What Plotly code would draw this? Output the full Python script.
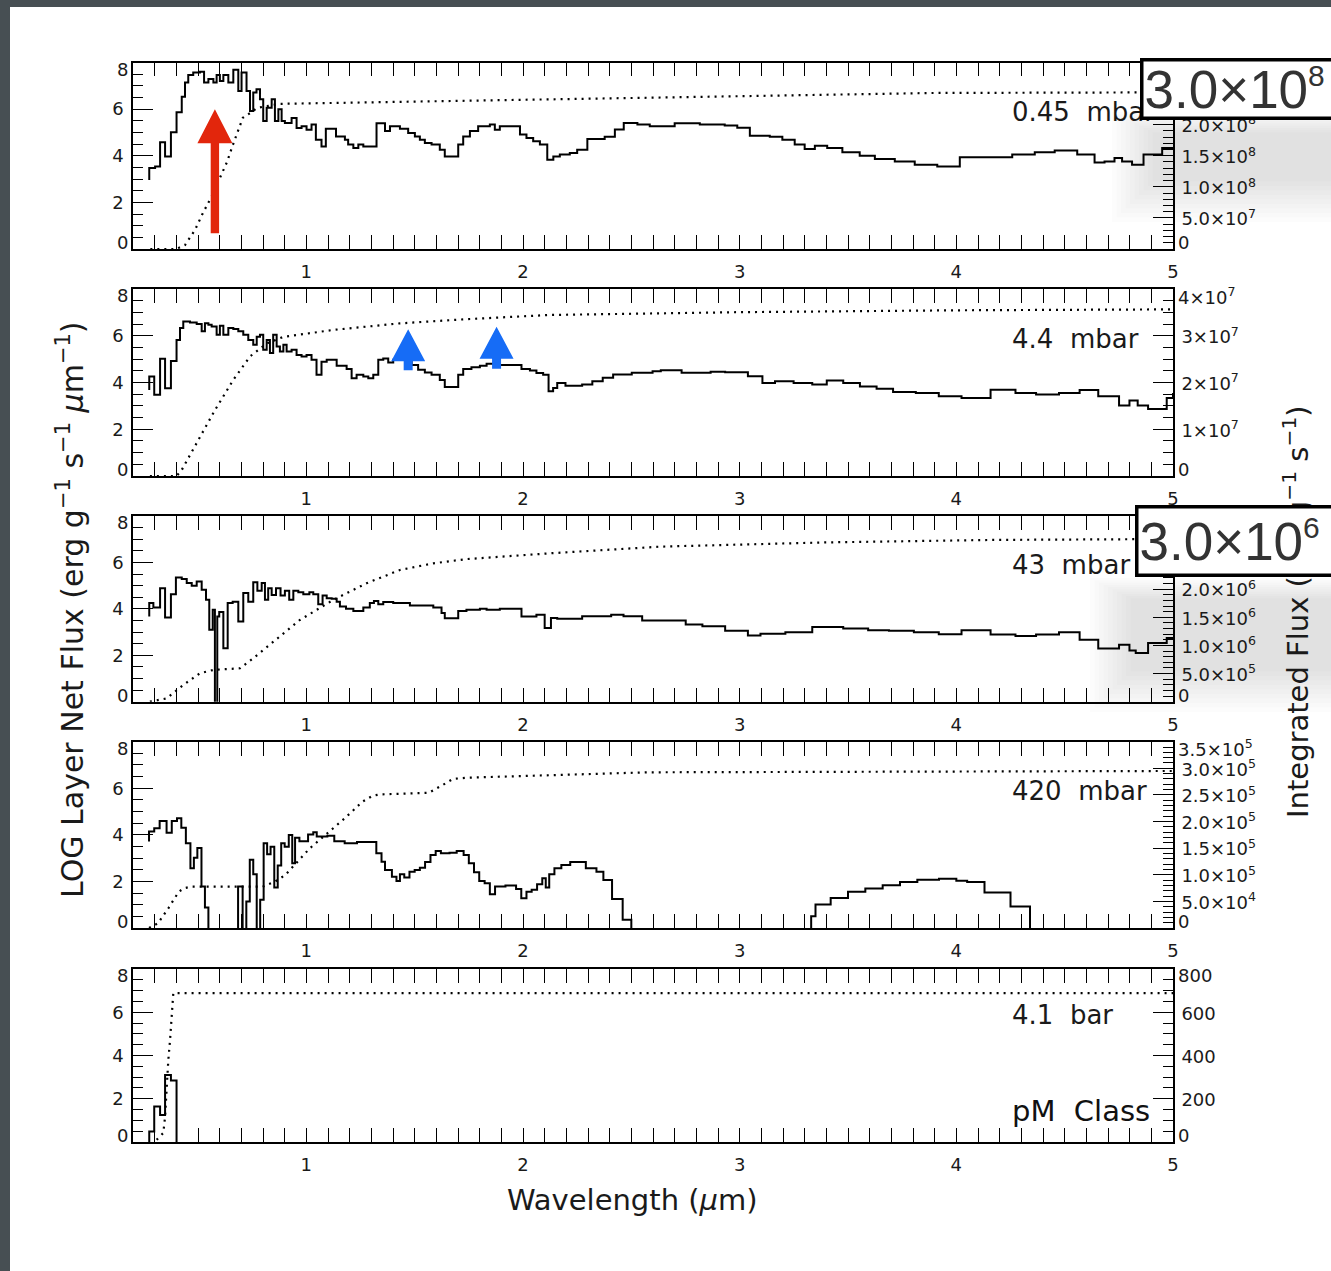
import plotly.graph_objects as go

W, H = 1331, 1271
FONT = "DejaVu Sans"

# ---------------------------------------------------------------------------
# LOG layer net flux spectra (histogram steps: left bin edge, log10 flux)
# -3.0 marks bins with no net flux (drawn below the axis floor)
# ---------------------------------------------------------------------------
wl_a = [0.275, 0.275, 0.302, 0.325, 0.348, 0.375, 0.401, 0.425, 0.440, 0.455, 0.478, 0.509,
        0.528, 0.548, 0.571, 0.586, 0.601, 0.617, 0.640, 0.663, 0.686, 0.701, 0.724, 0.740,
        0.755, 0.770, 0.786, 0.801, 0.817, 0.840, 0.855, 0.871, 0.886, 0.901, 0.932, 0.955,
        0.978, 1.001, 1.024, 1.044, 1.070, 1.090, 1.137, 1.178, 1.193, 1.217, 1.240, 1.263,
        1.286, 1.324, 1.363, 1.386, 1.432, 1.470, 1.501, 1.524, 1.547, 1.578, 1.616, 1.639,
        1.701, 1.724, 1.755, 1.793, 1.847, 1.870, 1.893, 1.986, 2.016, 2.047, 2.078, 2.112,
        2.140, 2.170, 2.216, 2.250, 2.297, 2.377, 2.424, 2.465, 2.528, 2.585, 2.700, 2.816,
        2.931, 2.989, 3.047, 3.139, 3.197, 3.254, 3.300, 3.347, 3.404, 3.474, 3.554, 3.624,
        3.716, 3.808, 3.912, 4.016, 4.131, 4.258, 4.362, 4.454, 4.558, 4.638, 4.684, 4.730,
        4.765, 4.811, 4.864, 4.950, 5.000]
lf_a = [2.96, 3.47, 3.54, 4.58, 3.97, 5.01, 5.87, 6.53, 7.14, 7.46, 7.57, 7.60,
        7.14, 7.29, 7.14, 7.46, 7.21, 7.46, 7.14, 7.69, 6.78, 7.57, 6.78, 5.92,
        6.71, 6.85, 6.42, 5.49, 6.06, 6.42, 5.49, 5.99, 5.49, 5.41, 5.62, 5.19,
        5.27, 5.12, 5.34, 4.69, 4.40, 5.16, 4.83, 4.69, 4.48, 4.33, 4.48, 4.40,
        4.40, 5.39, 5.06, 5.27, 5.16, 4.98, 4.83, 4.69, 4.55, 4.48, 4.26, 3.97,
        4.48, 4.83, 5.06, 5.27, 5.34, 5.12, 5.27, 4.91, 4.76, 4.62, 4.48, 3.83,
        3.97, 4.05, 4.12, 4.26, 4.72, 4.81, 5.13, 5.41, 5.34, 5.27, 5.39, 5.34,
        5.30, 5.20, 4.86, 4.81, 4.69, 4.48, 4.29, 4.43, 4.33, 4.15, 4.00, 3.86,
        3.75, 3.61, 3.54, 3.94, 3.94, 4.05, 4.15, 4.23, 4.05, 3.71, 3.75, 3.90,
        3.75, 3.61, 4.05, 4.33, 4.33]

wl_b = [0.275, 0.275, 0.298, 0.325, 0.348, 0.375, 0.401, 0.417, 0.432, 0.463, 0.494, 0.517,
        0.532, 0.548, 0.563, 0.586, 0.601, 0.617, 0.640, 0.663, 0.686, 0.709, 0.732, 0.755,
        0.771, 0.786, 0.801, 0.817, 0.832, 0.847, 0.863, 0.878, 0.894, 0.909, 0.932, 0.955,
        0.978, 1.001, 1.024, 1.047, 1.070, 1.094, 1.140, 1.186, 1.209, 1.232, 1.263, 1.286,
        1.309, 1.332, 1.355, 1.378, 1.401, 1.424, 1.447, 1.486, 1.516, 1.547, 1.578, 1.616,
        1.639, 1.701, 1.724, 1.762, 1.801, 1.832, 1.878, 1.993, 2.032, 2.062, 2.093, 2.118,
        2.139, 2.158, 2.196, 2.273, 2.320, 2.368, 2.416, 2.502, 2.598, 2.636, 2.732, 2.866,
        2.933, 3.038, 3.105, 3.163, 3.249, 3.335, 3.402, 3.478, 3.555, 3.632, 3.708, 3.813,
        3.919, 4.024, 4.158, 4.273, 4.368, 4.474, 4.569, 4.655, 4.751, 4.799, 4.837, 4.885,
        4.971, 5.000]
lf_b = [3.69, 4.26, 3.48, 5.02, 3.76, 4.93, 5.83, 6.34, 6.62, 6.58, 6.51, 6.20,
        6.55, 6.48, 6.41, 6.05, 6.44, 6.05, 6.34, 6.30, 6.20, 6.05, 5.83, 5.62,
        5.97, 6.05, 5.41, 5.83, 5.27, 6.05, 5.55, 5.34, 5.62, 5.34, 5.41, 5.19,
        5.12, 5.19, 4.98, 4.34, 4.90, 4.98, 4.72, 4.58, 4.19, 4.34, 4.26, 4.19,
        4.34, 4.98, 5.04, 4.86, 4.98, 5.04, 4.98, 4.76, 4.55, 4.44, 4.34, 4.11,
        3.81, 4.34, 4.58, 4.66, 4.72, 4.81, 4.76, 4.58, 4.52, 4.41, 4.34, 3.63,
        3.77, 3.98, 3.87, 3.92, 4.06, 4.21, 4.35, 4.42, 4.49, 4.53, 4.42, 4.47,
        4.45, 4.27, 3.98, 4.06, 3.98, 3.92, 4.09, 3.98, 3.84, 3.74, 3.60, 3.56,
        3.42, 3.34, 3.70, 3.56, 3.49, 3.56, 3.68, 3.42, 3.02, 3.24, 3.02, 2.87,
        3.34, 3.56]

wl_c = [0.275, 0.275, 0.294, 0.325, 0.348, 0.375, 0.398, 0.425, 0.448, 0.471, 0.494, 0.517,
        0.537, 0.552, 0.568, 0.578, 0.589, 0.598, 0.617, 0.637, 0.660, 0.686, 0.709, 0.732,
        0.755, 0.774, 0.794, 0.809, 0.824, 0.840, 0.860, 0.881, 0.901, 0.921, 0.940, 0.963,
        0.986, 1.014, 1.032, 1.055, 1.075, 1.094, 1.117, 1.140, 1.155, 1.183, 1.217, 1.263,
        1.293, 1.312, 1.332, 1.355, 1.401, 1.478, 1.586, 1.624, 1.639, 1.701, 1.739, 1.801,
        1.832, 1.893, 1.993, 2.062, 2.100, 2.129, 2.158, 2.196, 2.273, 2.407, 2.464, 2.550,
        2.636, 2.751, 2.828, 2.933, 3.038, 3.096, 3.211, 3.335, 3.478, 3.593, 3.689, 3.804,
        3.919, 4.024, 4.158, 4.273, 4.368, 4.474, 4.569, 4.655, 4.751, 4.799, 4.828, 4.885,
        4.971, 5.000]
lf_c = [3.67, 4.25, 4.06, 4.89, 3.63, 4.63, 5.35, 5.29, 5.11, 5.00, 5.18, 4.82,
        4.39, 3.10, 3.96, -3.0, 3.67, 3.86, 2.30, 4.25, 4.31, 3.45, 4.68, 4.31,
        5.15, 4.78, 5.11, 4.39, 4.89, 4.60, 4.89, 4.57, 4.78, 4.39, 4.78, 4.71,
        4.63, 4.71, 4.63, 4.20, 4.57, 4.46, 4.43, 4.31, 4.10, 4.00, 3.91, 4.06,
        4.25, 4.34, 4.20, 4.29, 4.25, 4.14, 4.06, 3.82, 3.59, 3.91, 3.96, 4.00,
        3.96, 4.00, 3.67, 3.75, 3.17, 3.61, 3.57, 3.57, 3.68, 3.75, 3.68, 3.50,
        3.50, 3.33, 3.25, 3.06, 2.85, 2.93, 2.99, 3.22, 3.15, 3.08, 3.06, 2.99,
        2.91, 3.08, 2.89, 2.83, 2.89, 2.99, 2.67, 2.29, 2.45, 2.21, 2.10, 2.53,
        2.74, 2.74]

wl_d = [0.274, 0.274, 0.298, 0.323, 0.355, 0.379, 0.403, 0.423, 0.444, 0.465, 0.481, 0.497,
        0.516, 0.532, 0.548, 0.685, 0.706, 0.723, 0.739, 0.755, 0.771, 0.787, 0.803, 0.819,
        0.835, 0.852, 0.868, 0.884, 0.900, 0.919, 0.935, 0.948, 0.968, 1.008, 1.032, 1.048,
        1.097, 1.129, 1.177, 1.234, 1.290, 1.323, 1.347, 1.363, 1.395, 1.416, 1.432, 1.452,
        1.476, 1.500, 1.524, 1.548, 1.573, 1.597, 1.621, 1.661, 1.694, 1.726, 1.750, 1.774,
        1.798, 1.823, 1.847, 1.871, 1.919, 1.968, 1.992, 2.016, 2.040, 2.065, 2.089, 2.105,
        2.121, 2.145, 2.177, 2.218, 2.290, 2.339, 2.371, 2.411, 2.460, 2.500, 3.330, 3.350,
        3.420, 3.500, 3.580, 3.660, 3.740, 3.820, 3.920, 4.000, 4.050, 4.130, 4.250, 4.340,
        5.000]
lf_d = [3.71, 4.14, 4.28, 4.60, 4.09, 4.60, 4.71, 4.31, 3.64, 2.57, 3.02, 3.43,
        1.78, 0.88, -3.0, 1.78, -3.0, 1.14, 2.93, 2.31, -3.0, 1.21, 3.64, 3.17,
        3.49, 1.74, 2.68, 3.64, 3.49, 3.99, 2.78, 3.88, 3.73, 4.02, 4.11, 3.93,
        3.96, 3.73, 3.64, 3.69, 3.69, 3.21, 2.85, 2.49, 2.20, 2.02, 2.31, 2.17,
        2.42, 2.49, 2.59, 2.83, 3.14, 3.31, 3.21, 3.23, 3.31, 3.14, 2.78, 2.39,
        2.02, 1.92, 1.45, 1.78, 1.82, 1.68, 1.28, 1.56, 1.64, 1.88, 2.14, 1.74,
        2.31, 2.57, 2.70, 2.83, 2.57, 2.42, 2.06, 1.24, 0.35, -3.0, 0.50, 1.01,
        1.29, 1.56, 1.70, 1.84, 1.98, 2.07, 2.12, 2.03, 1.98, 1.52, 0.92, -3.0,
        -3.0]

wl_e = [0.275, 0.275, 0.298, 0.325, 0.348, 0.375, 0.401, 5.000]
lf_e = [-3.0, 0.48, 1.64, 1.25, 3.10, 2.84, -3.0, -3.0]

# ---------------------------------------------------------------------------
# Integrated flux (erg g^-1 s^-1), cumulative from short wavelengths
# ---------------------------------------------------------------------------
iwl_a = [0.280, 0.400, 0.440, 0.486, 0.523, 0.564, 0.601, 0.634, 0.661, 0.707, 0.749, 0.772,
         0.878, 1.500, 2.124, 3.000, 3.900, 5.000]
if_a = [0.0, 0.0, 0.064e8, 0.306e8, 0.58e8, 0.853e8, 1.143e8, 1.40e8, 1.675e8, 2.11e8, 2.206e8,
        2.27e8, 2.335e8, 2.37e8, 2.40e8, 2.46e8, 2.51e8, 2.52e8]

iwl_b = [0.278, 0.401, 0.425, 0.494, 0.578, 0.663, 0.740, 0.817, 0.894, 1.124, 1.432, 1.739,
         2.124, 3.000, 4.000, 5.000]
if_b = [0.0, 0.0, 0.13e7, 0.70e7, 1.41e7, 2.06e7, 2.56e7, 2.84e7, 2.98e7, 3.13e7, 3.27e7,
        3.36e7, 3.45e7, 3.51e7, 3.55e7, 3.57e7]

iwl_c = [0.278, 0.355, 0.432, 0.509, 0.571, 0.694, 0.755, 0.847, 0.970, 1.124, 1.278, 1.432,
         1.586, 1.739, 1.893, 2.124, 2.636, 3.400, 4.167, 5.000]
if_c = [0.0, 0.059e6, 0.297e6, 0.505e6, 0.565e6, 0.594e6, 0.772e6, 1.065e6, 1.452e6, 1.808e6,
        2.105e6, 2.340e6, 2.459e6, 2.534e6, 2.578e6, 2.637e6, 2.756e6, 2.831e6, 2.875e6, 2.891e6]

iwl_d = [0.274, 0.315, 0.363, 0.411, 0.435, 0.468, 0.798, 0.855, 0.903, 0.952, 1.016, 1.097,
         1.177, 1.258, 1.306, 1.339, 1.565, 1.629, 1.677, 1.742, 2.577, 5.000]
if_d = [0.0, 8.8e3, 37e3, 68e3, 74.6e3, 77.6e3, 77.6e3, 87e3, 99.6e3, 121.5e3, 149.7e3, 178e3,
        206e3, 237e3, 248.5e3, 251e3, 254e3, 268.6e3, 280e3, 282.4e3, 292.5e3, 295e3]

iwl_e = [0.309, 0.340, 0.348, 0.355, 0.363, 0.371, 0.378, 0.386, 5.000]
if_e = [10, 42, 117, 256, 379, 472, 595, 688, 688]

# ---------------------------------------------------------------------------
# Per-layer settings
# ---------------------------------------------------------------------------
layer_names = ["0.45 \u00a0mbar", "4.4 \u00a0mbar", "43 \u00a0mbar", "420 \u00a0mbar", "4.1 \u00a0bar"]
spectra = [(wl_a, lf_a), (wl_b, lf_b), (wl_c, lf_c), (wl_d, lf_d), (wl_e, lf_e)]
integrals = [(iwl_a, if_a), (iwl_b, if_b), (iwl_c, if_c), (iwl_d, if_d), (iwl_e, if_e)]

right_max = [3.0e8, 4.0e7, 3.3e6, 3.5e5, 800]
right_vals = [
    [0, 5e7, 1e8, 1.5e8, 2e8, 2.5e8, 3e8],
    [0, 1e7, 2e7, 3e7, 4e7],
    [0, 5e5, 1e6, 1.5e6, 2e6, 2.5e6, 3e6],
    [0, 5e4, 1e5, 1.5e5, 2e5, 2.5e5, 3e5, 3.5e5],
    [0, 200, 400, 600, 800],
]


def sci(m, e):
    return f"{m}×10<sup>{e}</sup>"


# labels sitting on the frame corners are written separately, nudged inside the frame
right_text = [
    ["", sci("5.0", 7), sci("1.0", 8), sci("1.5", 8), sci("2.0", 8), sci("2.5", 8), ""],
    ["", sci("1", 7), sci("2", 7), sci("3", 7), ""],
    ["", sci("5.0", 5), sci("1.0", 6), sci("1.5", 6), sci("2.0", 6), sci("2.5", 6), sci("3.0", 6)],
    ["", sci("5.0", 4), sci("1.0", 5), sci("1.5", 5), sci("2.0", 5), sci("2.5", 5), sci("3.0", 5), ""],
    ["", "200", "400", "600", ""],
]
right_top_text = [sci("3.0", 8), sci("4", 7), None, sci("3.5", 5), "800"]
right_minor = [1e7, 2.5e6, 1e5, 1e4, 50]

LEFT_RANGE = [0.0, 8.0]
END_NUDGE = 6.5  # px that the end-of-axis labels sit inside the frame

# frame edges in pixels (top, bottom) and left/right
frames = [(62.5, 249.0), (289.3, 476.0), (516.0, 701.7), (741.7, 928.0), (969.0, 1142.0)]
X_LEFT, X_RIGHT = 133.0, 1173.0


def px_x(p):
    return p / W


def px_y(p):
    return 1.0 - p / H


fig = go.Figure()
layout = dict(
    width=W, height=H,
    autosize=False,
    margin=dict(l=0, r=0, t=0, b=0, pad=0, autoexpand=False),
    paper_bgcolor="#474f53",
    plot_bgcolor="rgba(0,0,0,0)",
    showlegend=False,
    font=dict(family=FONT, color="#1a1a1a"),
)

axis_line = dict(showline=True, linecolor="black", linewidth=1.6, showgrid=False,
                 zeroline=False, automargin=False)
tick_font = dict(size=18, family=FONT, color="#1a1a1a")

annotations = []

for i in range(5):
    xn = i + 1
    yl = 2 * i + 1
    yr = 2 * i + 2
    xref = "x" if xn == 1 else f"x{xn}"
    ylref = "y" if yl == 1 else f"y{yl}"
    yrref = f"y{yr}"
    top, bot = frames[i]

    layout["xaxis" if xn == 1 else f"xaxis{xn}"] = dict(
        axis_line,
        domain=[px_x(X_LEFT), px_x(X_RIGHT)],
        anchor=ylref,
        range=[0.2, 5.0],
        mirror="allticks",
        ticks="inside", ticklen=14, tickwidth=1.3, tickcolor="black",
        tickmode="array", tickvals=[1, 2, 3, 4, 5],
        ticklabelstandoff=6,
        tickfont=tick_font,
        minor=dict(ticks="inside", ticklen=7, tickwidth=1.3, tickcolor="black",
                   tick0=0, dtick=0.1, showgrid=False),
    )
    layout["yaxis" if yl == 1 else f"yaxis{yl}"] = dict(
        axis_line,
        domain=[px_y(bot), px_y(top)],
        anchor=xref,
        range=LEFT_RANGE,
        ticks="inside", ticklen=20, tickwidth=1.3, tickcolor="black",
        tickmode="array", tickvals=[0, 2, 4, 6, 8], ticktext=["", "2", "4", "6", ""],
        ticklabelstandoff=4,
        tickfont=tick_font,
        minor=dict(ticks="inside", ticklen=10, tickwidth=1.3, tickcolor="black",
                   tick0=0, dtick=0.5, showgrid=False),
    )
    layout[f"yaxis{yr}"] = dict(
        axis_line,
        overlaying=ylref,
        anchor=xref,
        side="right",
        range=[0, right_max[i]],
        ticks="inside", ticklen=20, tickwidth=1.3, tickcolor="black",
        tickmode="array", tickvals=right_vals[i], ticktext=right_text[i],
        ticklabelshift=1, ticklabelstandoff=3,
        tickfont=tick_font,
        minor=dict(ticks="inside", ticklen=10, tickwidth=1.3, tickcolor="black",
                   tick0=0, dtick=right_minor[i], showgrid=False),
    )

    wl, lf = spectra[i]
    fig.add_trace(go.Scatter(x=wl, y=lf, mode="lines", xaxis=xref, yaxis=ylref,
                             line=dict(shape="hv", color="black", width=2.0),
                             hoverinfo="skip"))
    iw, iv = integrals[i]
    fig.add_trace(go.Scatter(x=iw, y=iv, mode="lines", xaxis=xref, yaxis=yrref,
                             line=dict(color="black", width=2.2, dash="2px,5px"),
                             hoverinfo="skip"))

    # end-of-axis labels, nudged inside the frame
    dom = f"{ylref} domain"
    for txt, yv, shift in (("0", 0, END_NUDGE), ("8", 1, -END_NUDGE)):
        annotations.append(dict(text=txt, xref="paper", yref=dom, x=px_x(X_LEFT - 4), y=yv,
                                yshift=shift, xanchor="right", yanchor="middle",
                                showarrow=False, font=tick_font, borderpad=0))
    annotations.append(dict(text="0", xref="paper", yref=dom, x=px_x(X_RIGHT + 4), y=0,
                            yshift=END_NUDGE, xanchor="left", yanchor="middle",
                            showarrow=False, font=tick_font, borderpad=0))
    if right_top_text[i]:
        annotations.append(dict(text=right_top_text[i], xref="paper", yref=dom,
                                x=px_x(X_RIGHT + 4), y=1, yshift=-END_NUDGE,
                                xanchor="left", yanchor="middle",
                                showarrow=False, font=tick_font, borderpad=0))

    annotations.append(dict(
        text=layer_names[i], xref=xref, yref=dom,
        x=4.246, y=0.735, xanchor="left", yanchor="middle",
        showarrow=False, font=dict(family=FONT, size=26, color="#1a1a1a"),
    ))

annotations.append(dict(
    text="pM \u00a0Class", xref="x5", yref="y9 domain", x=4.246, y=0.18,
    xanchor="left", yanchor="middle", showarrow=False,
    font=dict(family=FONT, size=29, color="#111111"),
))

# axis titles
annotations.append(dict(
    text="Wavelength (<i>μ</i>m)", xref="paper", yref="paper",
    x=px_x(632), y=px_y(1200), xanchor="center", yanchor="middle",
    showarrow=False, font=dict(family=FONT, size=29, color="#1a1a1a"),
))
annotations.append(dict(
    text="LOG Layer Net Flux (erg g<sup>−1</sup> s<sup>−1</sup> <i>μ</i>m<sup>−1</sup>)",
    xref="paper", yref="paper", x=px_x(70), y=px_y(610), textangle=-90,
    xanchor="center", yanchor="middle", showarrow=False,
    font=dict(family=FONT, size=30, color="#1a1a1a"),
))
annotations.append(dict(
    text="Integrated Flux (erg g<sup>−1</sup> s<sup>−1</sup>)",
    xref="paper", yref="paper", x=px_x(1296), y=px_y(612), textangle=-90,
    xanchor="center", yanchor="middle", showarrow=False,
    font=dict(family=FONT, size=29, color="#1a1a1a"),
))

# magnified tick-label callouts
callouts = [("3.0×10", "8", 1140, 58, 62), ("3.0×10", "6", 1135, 505, 72)]
for base, power, left, top, hgt in callouts:
    annotations.append(dict(
        text=f"{base}<sup><span style='font-size:30px'>{power}</span></sup>",
        xref="paper", yref="paper", x=px_x(left), y=px_y(top),
        xanchor="left", yanchor="top", showarrow=False, align="left", valign="middle",
        width=230, height=hgt - 9, bgcolor="white", bordercolor="black",
        borderwidth=3.5, borderpad=1,
        font=dict(family="Liberation Sans", size=53, color="#333333"),
    ))

shapes = []
# white page inside the dark surround
shapes.append(dict(type="rect", xref="paper", yref="paper", x0=px_x(10), x1=1.02,
                   y0=-0.02, y1=px_y(7), fillcolor="white", line=dict(width=0), layer="below"))

# soft shadow haze beneath the callouts
for (x0, y0, x1, y1) in [(1112, 112, 1345, 222), (1090, 578, 1345, 712)]:
    for k in range(10):
        d = 4.5 * k
        shapes.append(dict(type="rect", xref="paper", yref="paper",
                           x0=px_x(x0 + d), x1=px_x(x1), y0=px_y(y1 - d), y1=px_y(y0 + d * 0.5),
                           fillcolor="rgba(0,0,0,0.013)", line=dict(width=0), layer="below"))


# highlight arrows (tip anchored in data space, body sized in pixels)
def arrow_path(head_len, head_half, shaft_half, total):
    return (f"M 0,0 L {head_half},{-head_len} L {shaft_half},{-head_len} "
            f"L {shaft_half},{-total} L {-shaft_half},{-total} L {-shaft_half},{-head_len} "
            f"L {-head_half},{-head_len} Z")


arrows = [
    ("x", "y", 0.578, 6.00, "rgb(226,38,12)", (34, 17.5, 4.2, 124)),
    ("x2", "y3", 1.470, 6.29, "rgb(22,108,246)", (32, 17, 4.5, 41)),
    ("x2", "y3", 1.878, 6.40, "rgb(22,108,246)", (32, 17, 4.5, 42)),
]
for xr, yr_, xa, ya, col, geom in arrows:
    shapes.append(dict(type="path", xref=xr, yref=yr_, xsizemode="pixel", ysizemode="pixel",
                       xanchor=xa, yanchor=ya, path=arrow_path(*geom),
                       fillcolor=col, line=dict(width=0), layer="above"))

layout["annotations"] = annotations
layout["shapes"] = shapes
fig.update_layout(**layout)

fig.write_html("out.html")
